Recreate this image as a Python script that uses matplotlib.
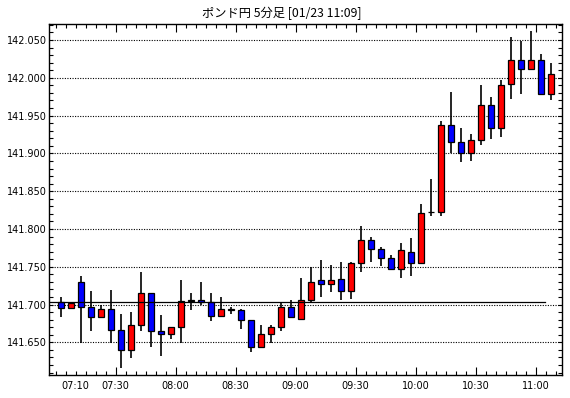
import matplotlib
matplotlib.use("Agg")
import matplotlib.pyplot as plt
from matplotlib.patches import Rectangle
from matplotlib.ticker import FixedLocator, MultipleLocator, FormatStrFormatter

title = "ポンド円 5分足 [01/23 11:09]"

opens = [141.7039, 141.6956, 141.7297, 141.6969, 141.6838, 141.6943, 141.6659, 141.6393, 141.6734, 141.7153,
         141.6655, 141.6616, 141.6703, 141.7050, 141.7061, 141.7035, 141.6852, 141.6934, 141.6930, 141.6799,
         141.6445, 141.6616, 141.6707, 141.6969, 141.6812, 141.7061, 141.7327, 141.7269, 141.7336, 141.7176,
         141.7553, 141.7855, 141.7735, 141.7615, 141.7469, 141.7700, 141.7549, 141.8225, 141.8230, 141.9374,
         141.9149, 141.9004, 141.9176, 141.9638, 141.9334, 141.9915, 142.0232, 142.0113, 142.0232, 141.9783]
highs = [141.7105, 141.7026, 141.7376, 141.7183, 141.7000, 141.7192, 141.6878, 141.6908, 141.7432, 141.7153,
         141.6856, 141.6703, 141.7328, 141.7153, 141.7301, 141.7153, 141.7105, 141.6974, 141.6943, 141.6799,
         141.6734, 141.6734, 141.7035, 141.7061, 141.7354, 141.7498, 141.7593, 141.7527, 141.7567, 141.7567,
         141.8046, 141.7900, 141.7766, 141.7660, 141.7820, 141.7882, 141.8326, 141.8660, 141.9431, 141.9818,
         141.9338, 141.9259, 141.9906, 141.9743, 141.9968, 142.0544, 142.0491, 142.0614, 142.0315, 142.0196]
lows = [141.6834, 141.6943, 141.6498, 141.6651, 141.6825, 141.6498, 141.6157, 141.6288, 141.6651, 141.6441,
        141.6323, 141.6550, 141.6485, 141.6930, 141.7000, 141.6782, 141.6838, 141.6878, 141.6677, 141.6376,
        141.6445, 141.6485, 141.6651, 141.6838, 141.6799, 141.7035, 141.7105, 141.7171, 141.7056, 141.7069,
        141.7425, 141.7558, 141.7513, 141.7456, 141.7358, 141.7380, 141.7536, 141.8168, 141.8168, 141.9004,
        141.8881, 141.8894, 141.9105, 141.9189, 141.9211, 141.9726, 141.9783, 142.0113, 141.9783, 141.9704]
closes = [141.6956, 141.7026, 141.6969, 141.6838, 141.6943, 141.6659, 141.6393, 141.6734, 141.7153, 141.6655,
          141.6616, 141.6703, 141.7048, 141.7056, 141.7035, 141.6852, 141.6943, 141.6937, 141.6799, 141.6445,
          141.6616, 141.6707, 141.6969, 141.6838, 141.7061, 141.7297, 141.7271, 141.7327, 141.7176, 141.7553,
          141.7855, 141.7735, 141.7615, 141.7469, 141.7722, 141.7549, 141.8215, 141.8230, 141.9374, 141.9145,
          141.9004, 141.9176, 141.9638, 141.9334, 141.9902, 142.0232, 142.0113, 142.0232, 141.9783, 142.0051]

ref_line = 141.7038
tick_labels = ["07:10", "07:30", "08:00", "08:30", "09:00", "09:30", "10:00", "10:30", "11:00"]
tick_pos = [1.5, 5.5, 11.5, 17.5, 23.5, 29.5, 35.5, 41.5, 47.5]

fig = plt.figure(figsize=(5.70, 3.98), dpi=100)
ax = fig.add_axes([49.3 / 570, 1 - 375 / 398, (561.7 - 49.3) / 570, (375 - 24) / 398])

ax.set_xlim(-1.14, 50.1)
ax.set_ylim(141.6068, 142.0712)

width = 0.62
for i, (o, h, l, c) in enumerate(zip(opens, highs, lows, closes)):
    ax.plot([i, i], [l, h], color="black", lw=1.2, zorder=2, solid_capstyle="butt")
    color = "#ff0000" if c >= o else "#0000ff"
    bottom = min(o, c)
    height = max(abs(c - o), 0.0004)
    ax.add_patch(Rectangle((i - width / 2, bottom), width, height,
                           facecolor=color, edgecolor="black", lw=0.9, zorder=3))

ax.plot([-1.14, 48.4], [ref_line, ref_line], color="black", lw=0.9, zorder=4)

ax.yaxis.set_major_locator(MultipleLocator(0.05))
ax.yaxis.set_minor_locator(MultipleLocator(0.01))
ax.yaxis.set_major_formatter(FormatStrFormatter("%.3f"))
ax.grid(axis="y", which="major", linestyle=(0, (1, 1.3)), color="black", lw=0.8, zorder=1)

ax.xaxis.set_major_locator(FixedLocator(tick_pos))
ax.set_xticklabels(tick_labels)
ax.xaxis.set_minor_locator(FixedLocator([k + 0.5 for k in range(-1, 50)]))

ax.tick_params(which="both", direction="in", top=True, right=True, labelsize=7, width=0.8, colors="black")
ax.tick_params(axis="x", which="major", length=6, pad=4)
ax.tick_params(axis="x", which="minor", length=3)
ax.tick_params(axis="y", which="major", length=3, pad=2)
ax.tick_params(axis="y", which="minor", length=3)
for t in ax.xaxis.get_major_ticks()[:1]:
    t.tick1line.set_markersize(3)
    t.tick2line.set_markersize(3)

for s in ax.spines.values():
    s.set_linewidth(1.0)
    s.set_color("black")

fig.text(282 / 570, 1 - 13 / 398, title, ha="center", va="center", fontsize=8.8,
         family=["Noto Sans CJK JP", "DejaVu Sans"])

fig.savefig("out.png", dpi=100)
